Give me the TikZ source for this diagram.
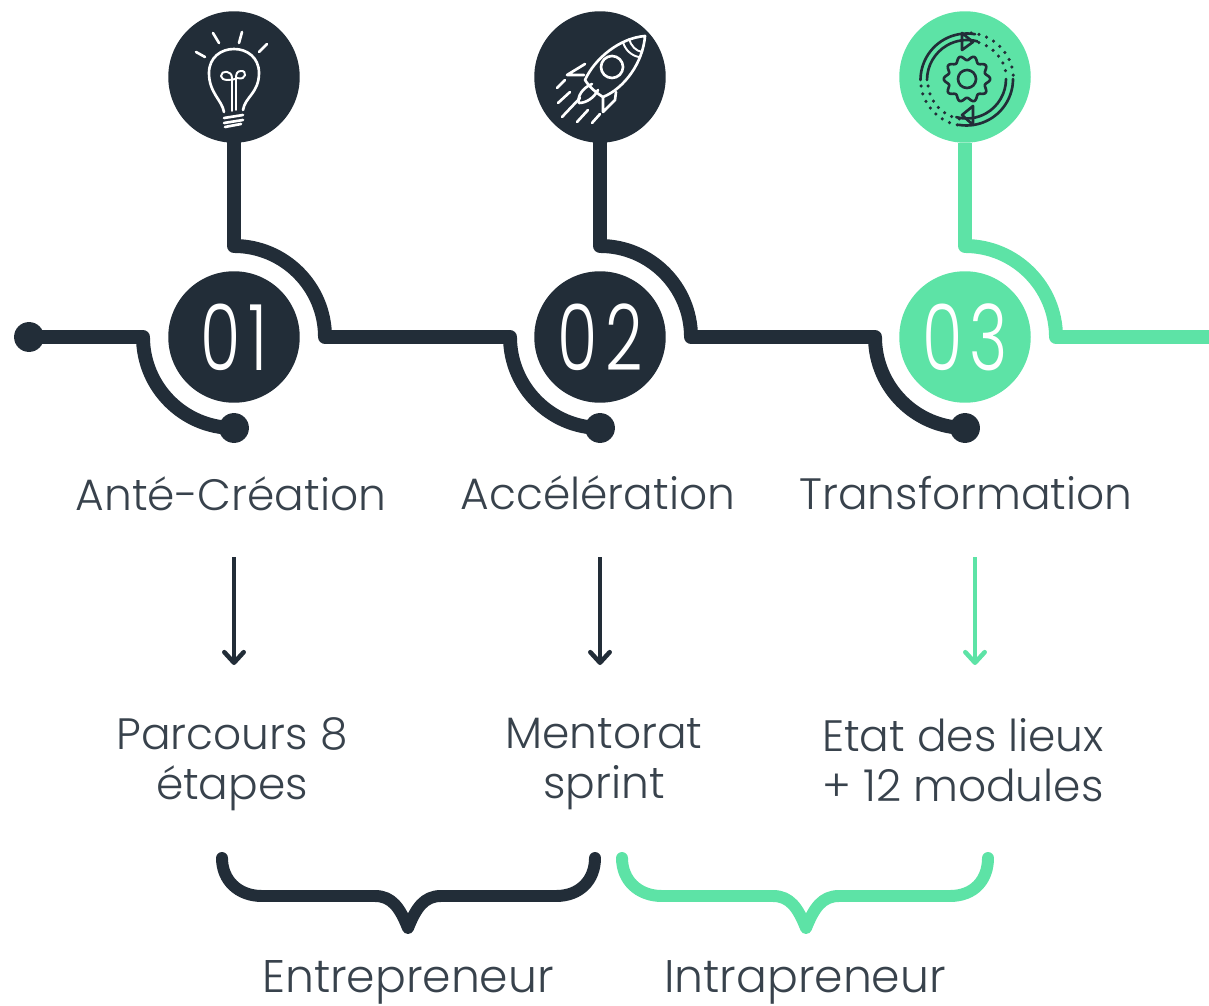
\documentclass[tikz,border=0pt]{standalone}
\usepackage{fontspec}
\setmainfont{Poppins}[UprightFont=* Light]
\usetikzlibrary{arrows.meta}
\definecolor{inkblue}{HTML}{222D38}
\definecolor{mintgreen}{HTML}{5DE3A6}
\tikzset{
    disc/.style={circle, minimum size=132\unitpx, inner sep=0pt},
    numlabel/.style={disc, text=white, font=\fontsize{62}{62}\selectfont},
    track/.style={line width=14\unitpx, line join=round, line cap=round},
    tipdot/.style={circle, minimum size=30\unitpx, inner sep=0pt},
    steptext/.style={font=\fontsize{25}{28.5}\selectfont, text=inkblue!90, align=center},
    roletext/.style={font=\fontsize{26}{29}\selectfont, text=inkblue!90},
    downarrow/.style={line width=2.8pt, -{Straight Barb[length=6pt,width=11pt,line width=2.6pt,round]}},
    brace/.style={line width=12\unitpx, line cap=round, line join=round},
    iconline/.style={line width=1.5pt, line cap=round, line join=round}
}
\def\unitpx{*0.5669pt}
\begin{document}
\begin{tikzpicture}[x=0.02cm, y=-0.02cm]
            \useasboundingbox (0,0) rectangle (1209,1006);

            % icon discs and number discs
            \node [disc, fill=inkblue] (bulb) at (234,77) {};
            \node [disc, fill=inkblue] (rocket) at (600,77) {};
            \node [disc, fill=mintgreen] (gear) at (965,77) {};
            \node [numlabel, fill=inkblue] (one) at (234,337) {\scalebox{0.6}[0.84]{0\kern7pt 1}};
            \node [numlabel, fill=inkblue] (two) at (600,337) {\scalebox{0.6}[0.84]{0\kern7pt 2}};
            \node [numlabel, fill=mintgreen] (three) at (965,337) {\scalebox{0.6}[0.84]{0\kern7pt 3}};

            % end dots
            \node [tipdot, fill=inkblue] (startdot) at (29,337) {};
            \node [tipdot, fill=inkblue] (dotone) at (234,428) {};
            \node [tipdot, fill=inkblue] (dottwo) at (600,428) {};
            \node [tipdot, fill=inkblue] (dotthree) at (965,428) {};
            \coordinate (rightend) at (1209,337);

            % tracks
            \draw [track, inkblue] (startdot.center)--(143,337) arc[start angle=180, end angle=90, radius=91]--(dotone.center);
            \draw [track, inkblue] (bulb.south)--(234,246) arc[start angle=-90, end angle=0, radius=91]--(510,337) arc[start angle=180, end angle=90, radius=91]--(dottwo.center);
            \draw [track, inkblue] (rocket.south)--(600,246) arc[start angle=-90, end angle=0, radius=91]--(875,337) arc[start angle=180, end angle=90, radius=91]--(dotthree.center);
            \draw [track, mintgreen, line cap=butt] (gear.south)--(965,246) arc[start angle=-90, end angle=0, radius=91]--(rightend);

            % bulb icon
            \draw [iconline, white] (213,33)--(219,43) (242,32)--(239,43) (267,44)--(259,52) (196,52)--(205,57);
            \draw [iconline, white] (224,112) .. controls (222,100) and (209,93) .. (209,73) .. controls (209,41) and (259,41) .. (259,73) .. controls (259,93) and (245,97) .. (243,110);
            \draw [iconline, white, line width=1.1pt] (232,111)--(232,78) .. controls (232,70) and (221,70) .. (221,76) .. controls (221,81) and (232,81) .. (237,78) .. controls (247,81) and (247,70) .. (241,71) .. controls (237,71) and (236,74) .. (236,78)--(236,110);
            \draw [iconline, white] (224,118)--(243,115) (224,123)--(243,120) (225,127)--(241,124);

            % rocket icon
            \draw [iconline, white] (645,36) .. controls (620,38) and (595,58) .. (585,80) .. controls (590,88) and (598,94) .. (603,97) .. controls (625,88) and (643,62) .. (645,36)--cycle;
            \draw [iconline, white] (612,67) circle[radius=11];
            \draw [iconline, white, line width=1.1pt] (623,42) .. controls (625,50) and (632,56) .. (639,57) (629,39) .. controls (631,46) and (636,51) .. (642,52);
            \draw [iconline, white] (585,64)--(567,75)--(584,75) (616,92)--(615,100)--(603,112)--(603,97);
            \draw [iconline, white] (592,84) .. controls (582,88) and (577,97) .. (579,103) .. controls (586,103) and (594,98) .. (598,90);
            \draw [iconline, white] (557,88)--(565,80) (558,103)--(570,92) (562,117)--(580,98) (577,122)--(588,110) (592,123)--(600,114);

            % gear icon
            \draw [iconline, inkblue] plot[domain=0:360, samples=121, smooth] ({967+(21+2.2*cos(10*\x))*cos(\x)}, {79+(21+2.2*cos(10*\x))*sin(\x)});
            \draw [iconline, inkblue] (967,79) circle[radius=9];
            \draw [iconline, inkblue] (927,80) arc[start angle=180, end angle=285, radius=40] (920.5,80) arc[start angle=180, end angle=280, radius=46.5];
            \draw [iconline, inkblue] (1013,79) arc[start angle=0, end angle=100, radius=46.5] (1006,79) arc[start angle=0, end angle=105, radius=39.5];
            \draw [iconline, inkblue] (973,42)--(962,33)--(962,50)--cycle (962,115)--(973,106)--(973,125)--cycle;
            \draw [iconline, inkblue, line width=2pt, dash pattern=on 0pt off 4.6pt] (971,33) arc[start angle=-85, end angle=-5, radius=46.5] (971,41) arc[start angle=-85, end angle=-5, radius=39];
            \draw [iconline, inkblue, line width=2pt, dash pattern=on 0pt off 4.6pt] (921,86) arc[start angle=172, end angle=95, radius=46.5] (928,86) arc[start angle=172, end angle=95, radius=39];

            % phases
            \node [steptext] (antecreation) at (231,494) {Anté-Création};
            \node [steptext] (acceleration) at (598,493) {Accélération};
            \node [steptext] (transformation) at (966,493) {Transformation};
            \node [steptext] (parcours) at (232,764) {Parcours 8\\étapes};
            \node [steptext] (mentorat) at (604,764) {Mentorat\\sprint};
            \node [steptext] (etat) at (963,760) {Etat des lieux\\+ 12 modules};
            \node [roletext] (entrepreneur) at (408,982) {Entrepreneur};
            \node [roletext] (intrapreneur) at (805,982) {Intrapreneur};

            % arrows
            \coordinate (arrowoneup) at (234,557);
            \coordinate (arrowtwoup) at (600,557);
            \coordinate (arrowthreeup) at (975,557);
            \draw [downarrow, inkblue] (arrowoneup)--(234,665);
            \draw [downarrow, inkblue] (arrowtwoup)--(600,665);
            \draw [downarrow, mintgreen] (arrowthreeup)--(975,665);

            % braces
            \draw [brace, inkblue] (222,858) .. controls (222,880) and (238,896) .. (262,896)--(375,896) .. controls (392,896) and (400,908) .. (408,928) .. controls (416,908) and (424,896) .. (441,896)--(556,896) .. controls (580,896) and (595,880) .. (595,858);
            \draw [brace, mintgreen] (622,858) .. controls (622,880) and (638,896) .. (662,896)--(773,896) .. controls (790,896) and (798,908) .. (806,928) .. controls (814,908) and (822,896) .. (839,896)--(950,896) .. controls (974,896) and (988,880) .. (988,858);
\end{tikzpicture}
\end{document}
